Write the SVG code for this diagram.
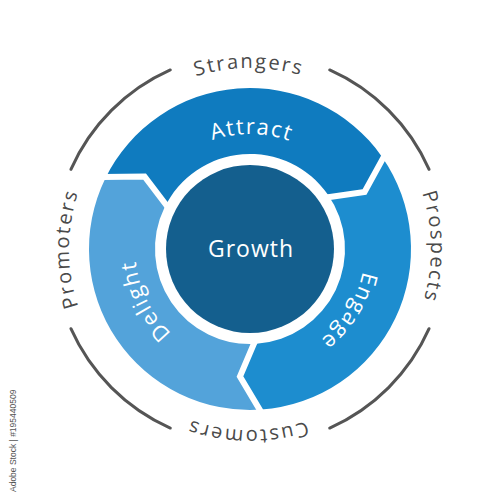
<svg xmlns="http://www.w3.org/2000/svg" xmlns:xlink="http://www.w3.org/1999/xlink" width="500" height="500" viewBox="0 0 500 500">
<style>
.outer{font-family:"Open Sans","Noto Sans",sans-serif;font-size:20px;fill:#4a4a4a;letter-spacing:2px}
.inner{font-family:"Open Sans","Noto Sans",sans-serif;font-size:22px;fill:#ffffff;letter-spacing:1.5px}
.arc{fill:none;stroke:#555555;stroke-width:3;stroke-linecap:round}
.gap{fill:none;stroke:#ffffff;stroke-width:6;stroke-linejoin:miter}
</style>
<defs>
<path id="outerPath" d="M122.01,376.99 A181,181 0 1 1 377.99,121.01 A181,181 0 1 1 122.01,376.99"/>
<path id="innerPath" d="M250,364 A115,115 0 1 1 250,134 A115,115 0 1 1 250,364"/>
</defs>
<rect width="500" height="500" fill="#ffffff"/>
<g id="connectors">
<path class="arc" d="M429.06,328.72 A196,196 0 0 1 329.72,428.06"/>
<path class="arc" d="M170.28,428.06 A196,196 0 0 1 70.94,328.72"/>
<path class="arc" d="M70.94,169.28 A196,196 0 0 1 170.28,69.94"/>
<path class="arc" d="M329.72,69.94 A196,196 0 0 1 429.06,169.28"/>
</g>
<g id="attract">
<path fill="#0f7bbf" d="M105.29,178.42 A161,161 0 0 1 381.88,156.65 L364.55,191.89 L327.82,194.51 A95,95 0 0 0 164.61,207.35 L144.51,176.5 Z"/>
<text class="inner"><textPath xlink:href="#innerPath" href="#innerPath" startOffset="50.2%" text-anchor="middle">Attract</textPath></text>
</g>
<g id="engage">
<path fill="#1d8dcf" d="M381.88,156.65 A161,161 0 0 1 261.23,409.61 L239.96,376.61 L256.63,343.77 A95,95 0 0 0 327.82,194.51 L364.55,191.89 Z"/>
<text class="inner"><textPath xlink:href="#innerPath" href="#innerPath" startOffset="83.9%" text-anchor="middle">Engage</textPath></text>
</g>
<g id="delight">
<path fill="#53a3da" d="M261.23,409.61 A161,161 0 0 1 105.29,178.42 L144.51,176.5 L164.61,207.35 A95,95 0 0 0 256.63,343.77 L239.96,376.61 Z"/>
<text class="inner"><textPath xlink:href="#innerPath" href="#innerPath" startOffset="17.7%" text-anchor="middle">Delight</textPath></text>
</g>
<g id="joints">
<polyline class="gap" points="385.16,154.36 364.55,191.89 322.90,197.95"/>
<polyline class="gap" points="261.44,412.60 239.96,376.61 256.42,337.79"/>
<polyline class="gap" points="102.59,177.10 144.51,176.50 170.00,210.00"/>
</g>
<g id="growth">
<circle cx="250" cy="249" r="84" fill="#145f8e"/>
<text x="251" y="257" text-anchor="middle" font-family="Open Sans, Noto Sans, sans-serif" font-size="23" fill="#ffffff" letter-spacing="1">Growth</text>
</g>
<g id="strangers"><text class="outer"><textPath xlink:href="#outerPath" href="#outerPath" startOffset="37.4%" text-anchor="middle">Strangers</textPath></text></g>
<g id="prospects"><text class="outer"><textPath xlink:href="#outerPath" href="#outerPath" startOffset="62.3%" text-anchor="middle">Prospects</textPath></text></g>
<g id="customers"><text class="outer"><textPath xlink:href="#outerPath" href="#outerPath" startOffset="87.7%" text-anchor="middle">Customers</textPath></text></g>
<g id="promoters"><text class="outer"><textPath xlink:href="#outerPath" href="#outerPath" startOffset="12.5%" text-anchor="middle">Promoters</textPath></text></g>
<text transform="translate(16,492) rotate(-90)" font-family="Liberation Sans, Arial, sans-serif" font-size="8.5" fill="#555555">Adobe Stock | #195440509</text>
</svg>
